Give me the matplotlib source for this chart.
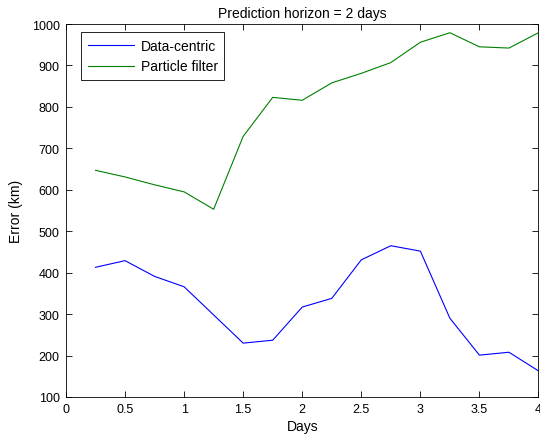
import matplotlib
matplotlib.use("Agg")
import matplotlib.pyplot as plt

days = [0.25, 0.5, 0.75, 1.0, 1.25, 1.5, 1.75, 2.0, 2.25, 2.5, 2.75, 3.0, 3.25, 3.5, 3.75, 4.0]
data_centric = [413, 429, 391, 366, 298, 230, 237, 317, 338, 431, 465, 452, 290, 201, 208, 163]
particle_filter = [647, 631, 612, 595, 553, 729, 823, 816, 858, 881, 907, 956, 979, 945, 942, 979]
xticks = [0, 0.5, 1, 1.5, 2, 2.5, 3, 3.5, 4]
xticklabels = ["0", "0.5", "1", "1.5", "2", "2.5", "3", "3.5", "4"]
yticks = list(range(100, 1001, 100))

plt.rcParams['font.family'] = ['Liberation Sans', 'DejaVu Sans']
plt.rcParams['font.size'] = 9

fig = plt.figure(figsize=(5.4, 4.39), dpi=100)
ax = fig.add_axes([0.1222, 0.0934, 0.875, 0.8496])
ax.plot(days, data_centric, color='#0000ff', lw=0.8, label='Data-centric')
ax.plot(days, particle_filter, color='#008000', lw=0.8, label='Particle filter')
ax.set_xlim(0, 4)
ax.set_ylim(100, 1000)
ax.set_xticks(xticks)
ax.set_xticklabels(xticklabels)
ax.set_yticks(yticks)
ax.tick_params(direction='in', top=True, right=True, length=4, width=0.6, labelsize=9, pad=4.5)
for s in ax.spines.values():
    s.set_linewidth(0.6)
ax.set_xlabel('Days', fontsize=10, labelpad=3)
ax.set_ylabel('Error (km)', fontsize=10, labelpad=6)
ax.set_title('Prediction horizon = 2 days', fontsize=10, pad=5)
leg = ax.legend(loc='upper left', bbox_to_anchor=(0.032, 0.979), fontsize=10, fancybox=False,
                edgecolor='black', framealpha=1, handlelength=3.3, handletextpad=0.5,
                borderpad=0.48, labelspacing=0.5, borderaxespad=0)
leg.get_frame().set_linewidth(0.6)
fig.savefig('out.png', dpi=100)
